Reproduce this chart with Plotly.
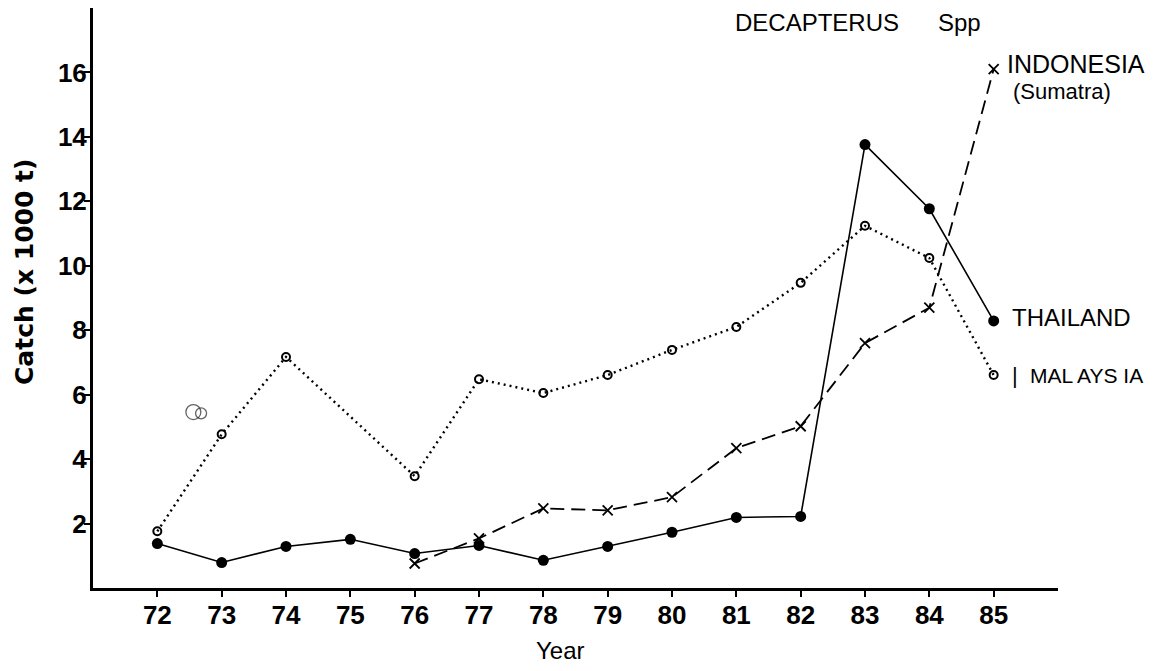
import plotly.graph_objects as go

years = [72, 73, 74, 75, 76, 77, 78, 79, 80, 81, 82, 83, 84, 85]
thailand = [1.38, 0.79, 1.29, 1.51, 1.07, 1.32, 0.86, 1.29, 1.73, 2.19, 2.22, 13.76, 11.77, 8.29]
malaysia_years = [72, 73, 74, 76, 77, 78, 79, 80, 81, 82, 83, 84, 85]
malaysia = [1.76, 4.77, 7.17, 3.47, 6.48, 6.05, 6.61, 7.39, 8.10, 9.47, 11.24, 10.24, 6.61]
indonesia_years = [76, 77, 78, 79, 80, 81, 82, 83, 84, 85]
indonesia = [0.76, 1.54, 2.47, 2.41, 2.82, 4.34, 5.02, 7.60, 8.70, 16.10]
stray_x = [72.56, 72.68]
stray_y = [5.46, 5.42]

x_ticks = years
x_ticklabels = ["72", "73", "74", "75", "76", "77", "78", "79", "80", "81", "82", "83", "84", "85"]
y_ticks = [2, 4, 6, 8, 10, 12, 14, 16]
y_ticklabels = ["2", "4", "6", "8", "10", "12", "14", "16"]

# page offset (browser body margin) compensation
OFF = 8
PL, PR, PT, PB = 93, 1058, 8, 588  # plot area in page pixels

fig = go.Figure()

fig.add_trace(go.Scatter(
    x=malaysia_years, y=malaysia, mode="lines+markers",
    line=dict(color="black", width=2.4, dash="2px,4px"),
    marker=dict(symbol="circle-open", size=8, color="black", line=dict(width=2)),
    showlegend=False))

fig.add_trace(go.Scatter(
    x=indonesia_years, y=indonesia, mode="lines+markers",
    line=dict(color="black", width=1.8, dash="14px,7px"),
    marker=dict(symbol="x-thin-open", size=10, color="black", line=dict(width=1.8, color="black")),
    showlegend=False))

fig.add_trace(go.Scatter(
    x=years, y=thailand, mode="lines+markers",
    line=dict(color="black", width=1.6),
    marker=dict(symbol="circle", size=11, color="black"),
    showlegend=False))

fig.add_trace(go.Scatter(
    x=stray_x, y=stray_y, mode="markers",
    marker=dict(symbol="circle-open", size=[15, 11], color="#222", line=dict(width=1.3)),
    showlegend=False))

txt = dict(family="Liberation Sans, Arial, sans-serif", color="black")

def ann(text, px, py, size, xanchor="left"):
    fig.add_annotation(
        text=text, xref="paper", yref="paper",
        x=(px - PL) / (PR - PL), y=(PB - py) / (PB - PT),
        xanchor=xanchor, yanchor="middle", showarrow=False,
        font=dict(size=size, **txt))

ann("DECAPTERUS", 733, 22, 24)
ann("Spp", 936, 22, 24)
ann("INDONESIA", 1005, 64, 25)
ann("(Sumatra)", 1011, 92, 22)
ann("THAILAND", 1010, 317, 24)
ann("|", 1010, 376, 22)
ann("MAL AYS IA", 1028, 376, 21)
ann("Year", 560, 650, 24, xanchor="center")

fig.add_annotation(
    text="<b>Catch (x 1000 t)</b>", xref="paper", yref="paper",
    x=(24 - PL) / (PR - PL), y=(PB - 272) / (PB - PT), textangle=-90,
    xanchor="center", yanchor="middle", showarrow=False,
    font=dict(size=25, family="DejaVu Sans, sans-serif", color="black"))

tf = dict(size=26, family="Liberation Sans, Arial, sans-serif", color="black", weight="bold")

fig.update_xaxes(
    range=[71, 86], tickvals=x_ticks, ticktext=x_ticklabels,
    showline=True, linecolor="black", linewidth=3,
    ticks="outside", ticklen=6, tickwidth=2, tickcolor="black",
    tickfont=tf, ticklabelstandoff=-4,
    showgrid=False, zeroline=False)

fig.update_yaxes(
    range=[0, 18], tickvals=y_ticks, ticktext=y_ticklabels,
    showline=True, linecolor="black", linewidth=3,
    ticks="outside", ticklen=6, tickwidth=2, tickcolor="black",
    tickfont=tf, ticklabelstandoff=-8,
    showgrid=False, zeroline=False)

fig.update_layout(
    width=1158 - OFF, height=671 - OFF,
    margin=dict(l=PL - OFF, r=(1158 - OFF) - (PR - OFF), t=PT - OFF, b=(671 - OFF) - (PB - OFF)),
    paper_bgcolor="white", plot_bgcolor="white")

fig.write_html("out.html")
